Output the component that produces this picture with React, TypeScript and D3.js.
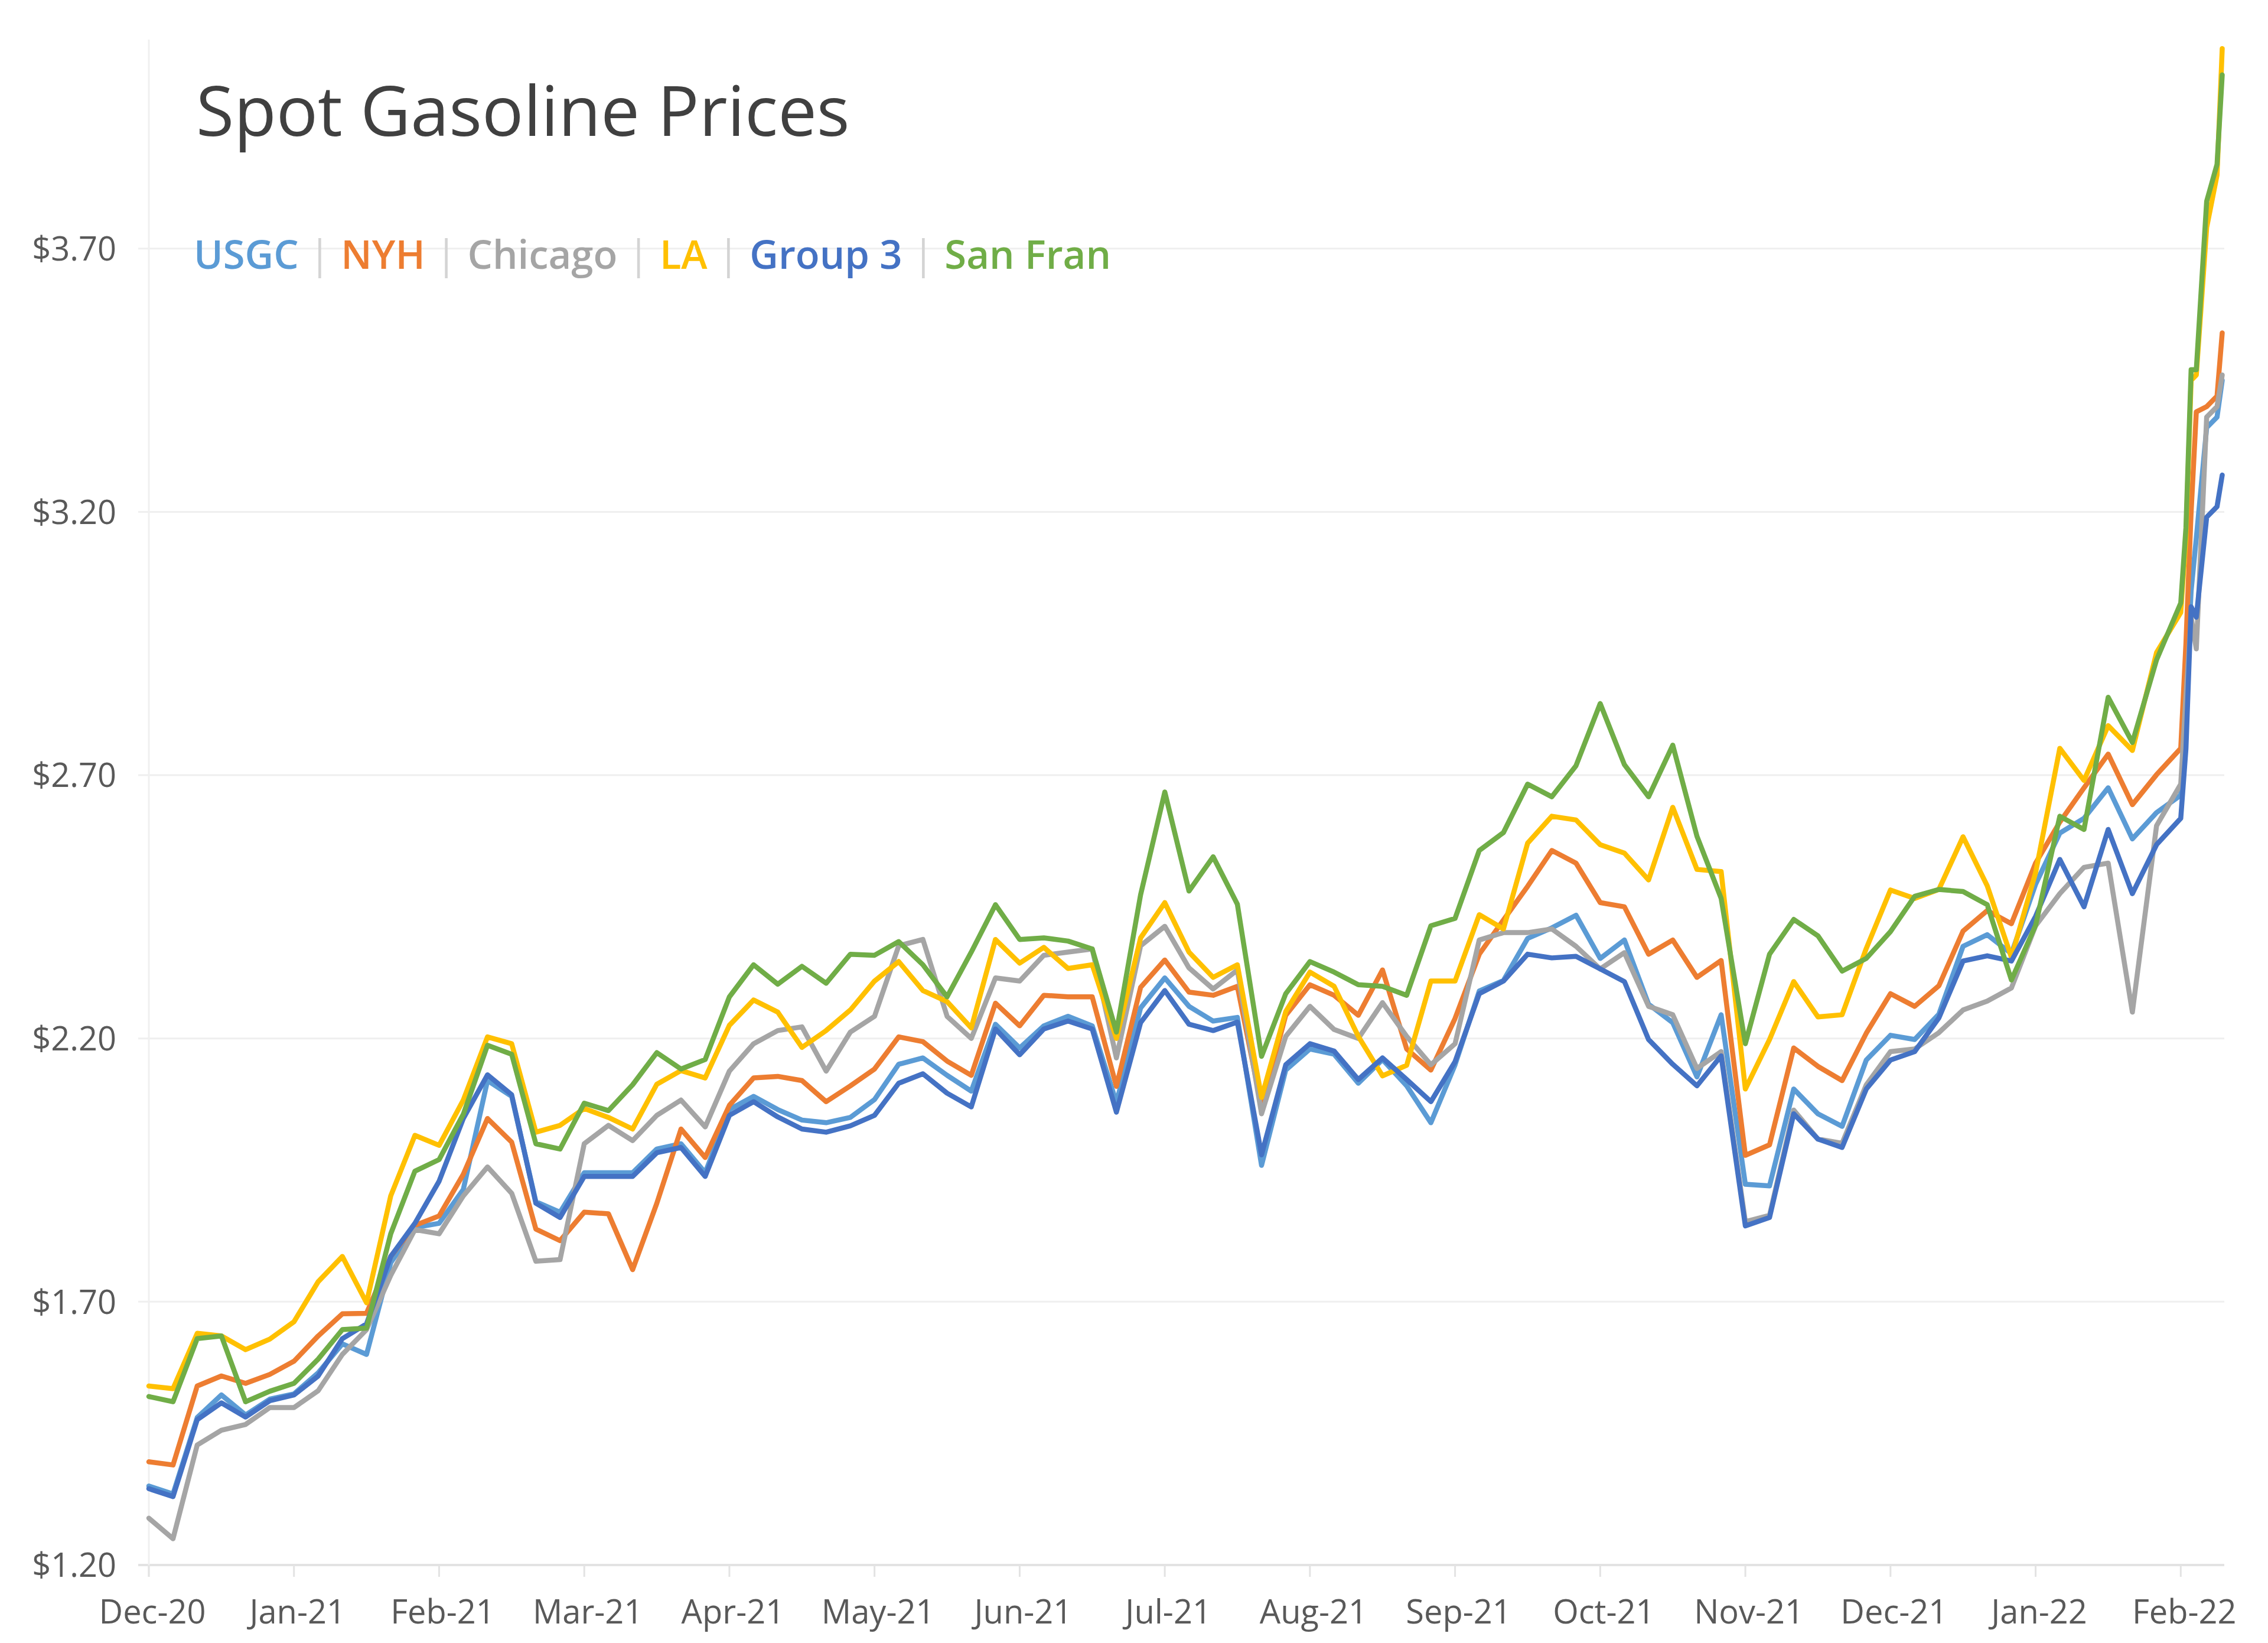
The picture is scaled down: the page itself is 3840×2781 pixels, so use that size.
import React from 'react';
import * as d3 from 'd3';

const W = 3840;
const H = 2781;

const SERIES_NAMES = ['USGC', 'NYH', 'Chicago', 'LA', 'Group 3', 'San Fran'];
const COLORS = ['#5B9BD5', '#ED7D31', '#A5A5A5', '#FFC000', '#4472C4', '#70AD47'];
const MONTH_LABELS = ['Dec-20', 'Jan-21', 'Feb-21', 'Mar-21', 'Apr-21', 'May-21', 'Jun-21', 'Jul-21', 'Aug-21', 'Sep-21', 'Oct-21', 'Nov-21', 'Dec-21', 'Jan-22', 'Feb-22'];
const Y_TICKS = [1.2, 1.7, 2.2, 2.7, 3.2, 3.7];

// Sampling: six readings per month from Dec 2020 through Jan 2022, then daily readings in early Feb 2022
const SAMPLES_PER_MONTH = 6;
const FEB22_DAYS = [1, 2, 3, 4, 6, 8, 9];

const usgc = [
  1.35, 1.335, 1.48, 1.523, 1.485, 1.515,
  1.525, 1.565, 1.62, 1.6, 1.774, 1.841,
  1.849, 1.913, 2.12, 2.09, 1.89, 1.87,
  1.945, 1.945, 1.945, 1.99, 2.0, 1.945,
  2.065, 2.09, 2.065, 2.045, 2.04, 2.05,
  2.084, 2.151, 2.163, 2.13, 2.1, 2.227,
  2.182, 2.224, 2.242, 2.224, 2.078, 2.258,
  2.315, 2.261, 2.233, 2.24, 1.959, 2.14,
  2.18, 2.17, 2.115, 2.16, 2.11, 2.04,
  2.15, 2.29, 2.31, 2.39, 2.41, 2.434,
  2.352, 2.387, 2.265, 2.23, 2.127, 2.245,
  1.923, 1.92, 2.104, 2.057, 2.033, 2.159,
  2.206, 2.198, 2.246, 2.375, 2.397, 2.361,
  2.493, 2.59, 2.618, 2.676, 2.579, 2.629,
  2.662, 2.85, 3.05, 3.15, 3.36, 3.38, 3.45,
];

const nyh = [
  1.396, 1.39, 1.54, 1.559, 1.545, 1.562,
  1.587, 1.635, 1.677, 1.678, 1.786, 1.845,
  1.863, 1.942, 2.048, 2.003, 1.838, 1.816,
  1.87, 1.867, 1.761, 1.887, 2.028, 1.974,
  2.073, 2.125, 2.128, 2.12, 2.08, 2.11,
  2.142, 2.203, 2.194, 2.157, 2.13, 2.267,
  2.224, 2.282, 2.279, 2.279, 2.109, 2.297,
  2.349, 2.288, 2.282, 2.299, 2.071, 2.244,
  2.302, 2.282, 2.244, 2.33, 2.18, 2.14,
  2.238, 2.36, 2.425, 2.489, 2.557, 2.533,
  2.458, 2.45, 2.36, 2.387, 2.316, 2.348,
  1.978, 1.998, 2.182, 2.147, 2.12, 2.21,
  2.285, 2.261, 2.3, 2.404, 2.443, 2.418,
  2.533, 2.611, 2.676, 2.74, 2.644, 2.701,
  2.751, 2.95, 3.2, 3.39, 3.4, 3.42, 3.54,
];

const chicago = [
  1.289, 1.25, 1.428, 1.456, 1.467, 1.499,
  1.499, 1.531, 1.6, 1.647, 1.75, 1.837,
  1.829, 1.901, 1.956, 1.906, 1.777, 1.78,
  2.0, 2.035, 2.006, 2.054, 2.083, 2.032,
  2.138, 2.19, 2.215, 2.222, 2.138, 2.212,
  2.242, 2.376, 2.388, 2.242, 2.2, 2.315,
  2.309, 2.358, 2.364, 2.37, 2.163, 2.376,
  2.413, 2.334, 2.294, 2.33, 2.057, 2.204,
  2.261, 2.217, 2.2, 2.268, 2.204, 2.15,
  2.19, 2.387, 2.401, 2.401, 2.408, 2.375,
  2.332, 2.363, 2.261, 2.245, 2.143, 2.175,
  1.852, 1.864, 2.064, 2.009, 2.001, 2.112,
  2.175, 2.18, 2.211, 2.254, 2.271, 2.296,
  2.414, 2.475, 2.525, 2.533, 2.25, 2.604,
  2.683, 2.85, 3.0, 2.94, 3.38, 3.4, 3.46,
];

const la = [
  1.54, 1.535, 1.64, 1.635, 1.609, 1.629,
  1.662, 1.738, 1.786, 1.698, 1.901, 2.016,
  1.997, 2.083, 2.203, 2.19, 2.022, 2.035,
  2.067, 2.05, 2.028, 2.113, 2.139, 2.125,
  2.225, 2.273, 2.25, 2.183, 2.215, 2.254,
  2.309, 2.346, 2.291, 2.27, 2.22, 2.388,
  2.343, 2.373, 2.333, 2.34, 2.2, 2.391,
  2.458, 2.364, 2.316, 2.34, 2.088, 2.251,
  2.326, 2.299, 2.204, 2.129, 2.149, 2.309,
  2.309, 2.435, 2.408, 2.571, 2.622, 2.615,
  2.568, 2.552, 2.501, 2.639, 2.521, 2.517,
  2.104, 2.198, 2.308, 2.241, 2.245, 2.371,
  2.482, 2.466, 2.483, 2.583, 2.49, 2.354,
  2.515, 2.751, 2.69, 2.794, 2.747, 2.933,
  3.009, 3.15, 3.45, 3.46, 3.74, 3.84, 4.08,
];

const group3 = [
  1.345, 1.33, 1.476, 1.508, 1.481, 1.512,
  1.523, 1.559, 1.63, 1.658, 1.786, 1.849,
  1.929, 2.048, 2.131, 2.093, 1.887, 1.86,
  1.938, 1.938, 1.938, 1.983, 1.993, 1.938,
  2.054, 2.08, 2.051, 2.028, 2.022, 2.034,
  2.054, 2.115, 2.133, 2.096, 2.07, 2.218,
  2.169, 2.218, 2.233, 2.218, 2.06, 2.23,
  2.291, 2.227, 2.215, 2.231, 1.979, 2.15,
  2.19, 2.176, 2.122, 2.163, 2.122, 2.08,
  2.156, 2.285, 2.309, 2.36, 2.353, 2.356,
  2.332, 2.308, 2.198, 2.151, 2.11, 2.167,
  1.844, 1.86, 2.057, 2.009, 1.993, 2.104,
  2.159, 2.175, 2.239, 2.347, 2.357, 2.347,
  2.432, 2.54, 2.45, 2.597, 2.475, 2.568,
  2.618, 2.75, 3.02, 3.0, 3.19, 3.21, 3.27,
];

const sanFran = [
  1.52, 1.51, 1.63, 1.635, 1.51, 1.53,
  1.545, 1.591, 1.647, 1.65, 1.829, 1.948,
  1.97, 2.056, 2.187, 2.17, 2.0, 1.99,
  2.077, 2.063, 2.112, 2.173, 2.142, 2.16,
  2.279, 2.34, 2.303, 2.337, 2.305, 2.36,
  2.358, 2.384, 2.34, 2.279, 2.364, 2.454,
  2.388, 2.391, 2.385, 2.37, 2.212, 2.473,
  2.668, 2.48, 2.545, 2.455, 2.166, 2.285,
  2.346, 2.326, 2.302, 2.299, 2.282, 2.414,
  2.428, 2.557, 2.591, 2.683, 2.659, 2.718,
  2.836, 2.72, 2.659, 2.757, 2.584, 2.466,
  2.19, 2.36, 2.426, 2.395, 2.328, 2.352,
  2.403, 2.47, 2.483, 2.479, 2.454, 2.311,
  2.415, 2.622, 2.597, 2.848, 2.762, 2.919,
  3.027, 3.17, 3.47, 3.47, 3.79, 3.86, 4.03,
];

const SERIES = [usgc, nyh, chicago, la, group3, sanFran];

// position of each sample, in months since 1 Dec 2020
function buildSamplePositions(): number[] {
  const pos: number[] = [];
  const months = MONTH_LABELS.length - 1; // Dec-20 .. Jan-22
  for (let m = 0; m < months; m++) {
    for (let j = 0; j < SAMPLES_PER_MONTH; j++) pos.push(m + j / SAMPLES_PER_MONTH);
  }
  FEB22_DAYS.forEach((d) => pos.push(months + (d - 1) / 28));
  return pos;
}
const SAMPLE_POS = buildSamplePositions();

const PLOT = { left: 252, right: 3766, top: 67, bottom: 2649 };

export default function App() {
  const x = d3.scaleLinear().domain([0, 14.3]).range([PLOT.left, PLOT.right]);
  const y = d3.scaleLinear().domain([1.2, 4.097]).range([PLOT.bottom, PLOT.top]);

  const line = d3
    .line<number>()
    .x((_, i) => x(SAMPLE_POS[i]))
    .y((v) => y(v));

  const font = "'Open Sans', 'Segoe UI', 'DejaVu Sans', sans-serif";

  return (
    <svg
      width={W}
      height={H}
      viewBox={`0 0 ${W} ${H}`}
      style={{ position: 'absolute', left: 0, top: 0, background: '#ffffff' }}
      fontFamily={font}
    >
      <rect x={0} y={0} width={W} height={H} fill="#ffffff" />

      {/* gridlines */}
      {Y_TICKS.map((t) => (
        <line
          key={t}
          x1={PLOT.left - 18}
          x2={PLOT.right}
          y1={y(t)}
          y2={y(t)}
          stroke={t === 1.2 ? '#e3e3e3' : '#efefef'}
          strokeWidth={t === 1.2 ? 4 : 3}
        />
      ))}
      {/* left axis line */}
      <line x1={PLOT.left} x2={PLOT.left} y1={PLOT.top} y2={PLOT.bottom + 20} stroke="#f0f0f0" strokeWidth={3} />

      {/* x ticks */}
      {MONTH_LABELS.map((m, i) => (
        <line key={m} x1={x(i)} x2={x(i)} y1={PLOT.bottom} y2={PLOT.bottom + 20} stroke="#e3e3e3" strokeWidth={3} />
      ))}

      {/* y labels */}
      {Y_TICKS.map((t) => (
        <text key={t} x={197} y={y(t)} dy="0.36em" textAnchor="end" fontSize={56} fill="#595959">
          {d3.format('$.2f')(t)}
        </text>
      ))}

      {/* x labels */}
      {MONTH_LABELS.map((m, i) => (
        <text key={m} x={x(i) + 6} y={2748} textAnchor="middle" fontSize={56} fill="#595959">
          {m}
        </text>
      ))}

      {/* series */}
      {SERIES.map((s, i) => (
        <path
          key={SERIES_NAMES[i]}
          d={line(s) || ''}
          fill="none"
          stroke={COLORS[i]}
          strokeWidth={8.5}
          strokeLinejoin="round"
          strokeLinecap="round"
        />
      ))}

      {/* title */}
      <text x={332} y={230} fontSize={117} fill="#404040">
        Spot Gasoline Prices
      </text>

      {/* legend */}
      <text x={328} y={455} fontSize={67} fontWeight={600}>
        {SERIES_NAMES.map((n, i) => (
          <React.Fragment key={n}>
            {i > 0 && (
              <tspan fill="#d4d4d4" fontWeight={400}>
                {' | '}
              </tspan>
            )}
            <tspan fill={COLORS[i]}>{n}</tspan>
          </React.Fragment>
        ))}
      </text>
    </svg>
  );
}
